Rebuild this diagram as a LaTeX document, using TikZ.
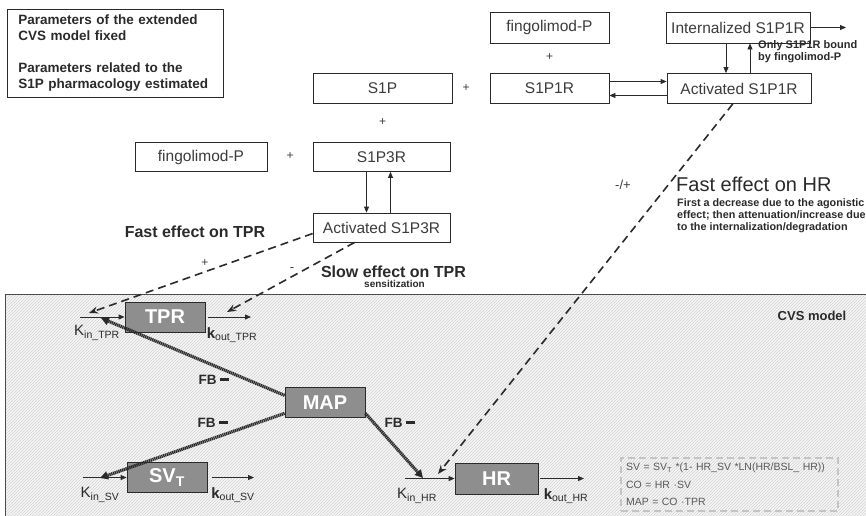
\documentclass[tikz,border=0pt]{standalone}
\usepackage{fontspec}
\setmainfont{Liberation Sans}
\usetikzlibrary{arrows.meta,patterns}
\definecolor{ink}{HTML}{2A2A2A}
\definecolor{txtgray}{HTML}{3C3C3C}
\definecolor{boxgray}{HTML}{8E8E8E}
\definecolor{eqgray}{HTML}{C4C4C4}
\newcommand{\fsz}[2]{\fontsize{#1}{#2}\selectfont}
\tikzset{
  wbox/.style={draw=ink,line width=0.8pt,fill=white,text=txtgray,font=\fsz{15.5}{18},minimum height=30pt,inner sep=0pt},
  gbox/.style={draw=ink,line width=0.8pt,fill=boxgray,text=white,font=\fsz{20}{22}\bfseries,minimum width=80pt,minimum height=30pt,inner sep=0pt},
  flow/.style={-{Triangle[length=6pt,width=5pt]},line width=0.8pt,ink},
  fx/.style={-{Stealth[length=9pt,width=7pt]},line width=1.6pt,ink,dash pattern=on 8pt off 5pt},
  fb/.style={-{Triangle[length=8pt,width=8pt]},line width=3.2pt,ink,dash pattern=on 1.3pt off 0.6pt},
  plus/.style={text=txtgray,font=\fsz{12}{14}},
  klab/.style={text=ink,font=\fsz{15}{17},inner sep=0pt},
  fblab/.style={text=ink,font=\fsz{13.5}{16}\bfseries,inner sep=0pt},
  note/.style={text=ink,align=left,inner sep=0pt,anchor=west},
}

\begin{document}
\begin{tikzpicture}[x=1pt,y=-1pt]
\useasboundingbox (0,0) rectangle (866,515);
% CVS model area
\fill[gray!7] (5,294) rectangle (870,520);
\fill[pattern=north east lines,pattern color=gray!35] (5,294) rectangle (870,520);
\draw[gray!60!black,line width=0.8pt] (870,294) -- (5,294) -- (5,520);
\node[font=\fsz{13}{15}\bfseries,text=ink] (cvslab) at (812,316) {CVS model};

% legend
\node[draw=ink,line width=0.8pt,anchor=north west,minimum height=88pt,text width=194pt,inner xsep=11pt,align=left,text=ink,font=\fsz{13.5}{16}\bfseries] (legend) at (7,9) {Parameters of the extended\\CVS model fixed\\[16pt]Parameters related to the\\S1P pharmacology estimated};

% S1P pharmacology
\node[wbox,minimum width=119pt,minimum height=31pt] (fingoA) at (549.5,27.5) {fingolimod-P};
\node[wbox,minimum width=144pt,minimum height=31pt] (intern) at (738,27.5) {Internalized S1P1R};
\node[plus] (plusA) at (549.5,57) {+};
\node[wbox,minimum width=139pt] (s1p) at (382.5,88.5) {S1P};
\node[plus] (plusB) at (466,88.5) {+};
\node[wbox,minimum width=119pt] (s1p1r) at (549.5,88.5) {S1P1R};
\node[wbox,minimum width=144pt] (act1) at (739,88.5) {Activated S1P1R};
\node[plus] (plusC) at (382.5,122) {+};
\node[wbox,minimum width=132pt,minimum height=29pt] (fingoB) at (201,157) {fingolimod-P};
\node[plus] (plusD) at (290,156) {+};
\node[wbox,minimum width=137pt,minimum height=29pt] (s1p3r) at (381.5,157) {S1P3R};
\node[wbox,minimum width=137pt,minimum height=29pt] (act3) at (381.5,227.5) {Activated S1P3R};

\coordinate (degr) at (846,27.5);
\draw[flow] (intern.east) -- (degr);
\draw[flow] ([xshift=-12pt]intern.south) -- ([xshift=-12pt]intern.south |- act1.north);
\draw[flow] ([xshift=11pt]act1.north) -- ([xshift=11pt]act1.north |- intern.south);
\node[note,font=\fsz{11}{12}\bfseries] (onlynote) at (758,52) {Only S1P1R bound\\by fingolimod-P};
\draw[flow] ([yshift=7pt]s1p1r.east) -- ([yshift=7pt]act1.west);
\draw[flow] ([yshift=-7pt]act1.west) -- ([yshift=-7pt]s1p1r.east);
\draw[flow] ([xshift=-15pt]s1p3r.south) -- ([xshift=-15pt]s1p3r.south |- act3.north);
\draw[flow] ([xshift=9pt]act3.north) -- ([xshift=9pt]act3.north |- s1p3r.south);

% CVS model compartments
\node[gbox] (tpr) at (165,317) {TPR};
\node[gbox] (map) at (325,402.5) {MAP};
\node[gbox] (svt) at (167,477.5) {SV\textsubscript{T}};
\node[gbox,minimum width=83pt,minimum height=31pt] (hr) at (496.5,478.5) {HR};

\coordinate (kinT) at (80,317); \coordinate (koutT) at (251,317);
\draw[flow] (kinT) -- (tpr.west);
\draw[flow,shorten <=3pt] (tpr.east) -- (koutT);
\coordinate (kinS) at (83,477.5); \coordinate (koutS) at (254,477.5);
\draw[flow] (kinS) -- (svt.west);
\draw[flow,shorten <=5pt] (svt.east) -- (koutS);
\coordinate (kinH) at (405,478.5); \coordinate (koutH) at (584,478.5);
\draw[flow] (kinH) -- (hr.west);
\draw[flow,shorten <=2pt] (hr.east) -- (koutH);

\node[klab] (kinTlab) at (97,333) {K\textsubscript{in\_TPR}};
\node[klab] (koutTlab) at (232,335) {\textbf{k}\textsubscript{out\_TPR}};
\node[klab] (kinSlab) at (100,495) {K\textsubscript{in\_SV}};
\node[klab] (koutSlab) at (233,495) {\textbf{k}\textsubscript{out\_SV}};
\node[klab] (kinHlab) at (417,496) {K\textsubscript{in\_HR}};
\node[klab] (koutHlab) at (566,496) {\textbf{k}\textsubscript{out\_HR}};

% feedback from MAP
\coordinate (fbT) at (101,318);
\coordinate (fbS) at (100,478);
\coordinate (fbH) at (423,478);
\draw[fb] (map.170) -- (fbT);
\draw[fb] (map.195) -- (fbS);
\draw[fb] (map.-15) -- (fbH);
\node[fblab] (fbTlab) at (214,380) {FB \rule[3.5pt]{9pt}{3pt}};
\node[fblab] (fbSlab) at (213,423) {FB \rule[3.5pt]{9pt}{3pt}};
\node[fblab] (fbHlab) at (400,423) {FB \rule[3.5pt]{9pt}{3pt}};

% drug effects
\coordinate (fastT) at (89,313);
\coordinate (slowT) at (227,312);
\coordinate (fastH) at (438,474);
\draw[fx] (act3.185) -- (fastT);
\draw[fx] (act3.209) -- (slowT);
\draw[fx] (act1.248) -- (fastH);
\node[plus] (pT) at (205,263) {+};
\node[plus,font=\fsz{13}{15}] (mT) at (292,270) {-};
\node[plus,font=\fsz{13}{15}] (pmH) at (623,185) {-/+};
\node[font=\fsz{16}{18}\bfseries,text=ink] (fastTlab) at (195,232) {Fast effect on TPR};
\node[font=\fsz{16}{18}\bfseries,text=ink] (slowTlab) at (393.5,272) {Slow effect on TPR};
\node[font=\fsz{10}{11}\bfseries,text=ink] (sens) at (394.5,284) {sensitization};
\node[note,font=\fsz{20}{22}] (fastHlab) at (676,184) {Fast effect on HR};
\node[note,font=\fsz{10.8}{11.8}\bfseries] (fastHnote) at (677,216) {First a decrease due to the agonistic\\effect; then attenuation/increase due\\to the internalization/degradation};

% equations
\node[draw=eqgray,line width=2pt,dash pattern=on 7pt off 4pt,anchor=north west,minimum width=217pt,minimum height=53pt,text width=207pt,inner xsep=5pt,align=left,text=txtgray!85,font=\fsz{10.5}{17.5}] (eqs) at (620,457) {SV = SV\textsubscript{T} *(1- HR\_SV *LN(HR/BSL\_ HR))\\CO = HR ·SV\\MAP = CO ·TPR};
\end{tikzpicture}
\end{document}
